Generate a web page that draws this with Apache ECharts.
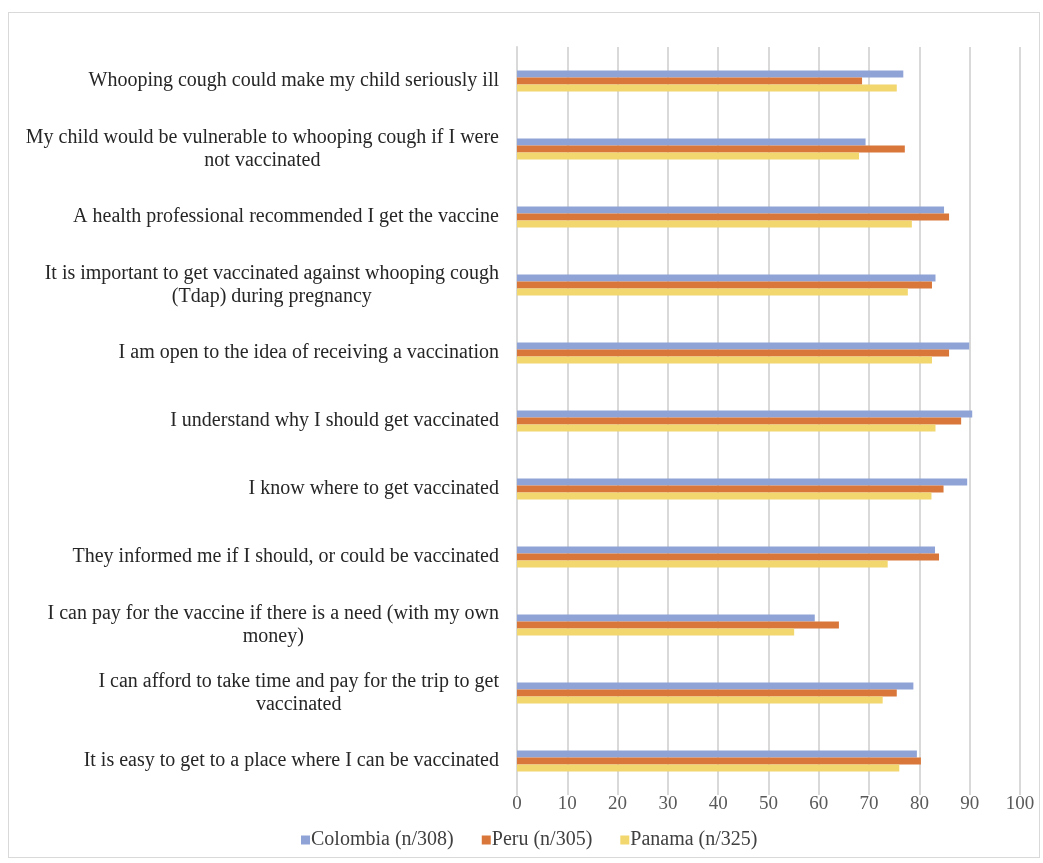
<!DOCTYPE html>
<html>
<head>
<meta charset="utf-8">
<script src="https://cdn.jsdelivr.net/npm/echarts@6/dist/echarts.min.js"></script>
<style>
  html, body { margin: 0; padding: 0; background: #fff; }
  #frame {
    position: absolute; left: 8px; top: 12px;
    width: 1030px; height: 844px;
    border: 1px solid #d9d9d9;
  }
  #chart { position: absolute; left: 0; top: 0; width: 1043px; height: 863px; }
</style>
</head>
<body>
<div id="frame"></div>
<div id="chart"></div>
<script>
  // categories, top to bottom
  const categories = [
    'Whooping cough could make my child seriously ill',
    'My child would be vulnerable to whooping cough if I were\nnot vaccinated',
    'A health professional recommended I get the vaccine',
    'It is important to get vaccinated against whooping cough\n(Tdap) during pregnancy',
    'I am open to the idea of receiving a vaccination',
    'I understand why I should get vaccinated',
    'I know where to get vaccinated',
    'They informed me if I should, or could be vaccinated',
    'I can pay for the vaccine if there is a need (with my own\nmoney)',
    'I can afford to take time and pay for the trip to get\nvaccinated',
    'It is easy to get to a place where I can be vaccinated'
  ];
  const colombia = [76.8, 69.3, 84.9, 83.2, 89.9, 90.5, 89.5, 83.1, 59.2, 78.8, 79.5];
  const peru     = [68.6, 77.1, 85.9, 82.5, 85.9, 88.3, 84.8, 83.9, 64.0, 75.5, 80.3];
  const panama   = [75.5, 68.0, 78.5, 77.7, 82.5, 83.2, 82.4, 73.7, 55.1, 72.7, 76.0];
  const seriesNames = ['Colombia (n/308)', 'Peru (n/305)', 'Panama (n/325)'];

  const serif = '"Liberation Serif", "DejaVu Serif", serif';
  const chart = echarts.init(document.getElementById('chart'));

  const mkBar = (name, data, color) => ({
    name: name,
    type: 'bar',
    data: data,
    barWidth: 7,
    barGap: '0%',
    itemStyle: { color: color }
  });

  chart.setOption({
    animation: false,
    textStyle: { fontFamily: serif },
    legend: {
      bottom: 8,
      left: 296,
      icon: 'rect',
      itemWidth: 9,
      itemHeight: 9,
      itemGap: 28,
      textStyle: { fontFamily: serif, fontSize: 20, color: '#404040', padding: [0, 0, 0, -4] },
      data: seriesNames
    },
    grid: { left: 517, right: 23, top: 47, bottom: 68, containLabel: false },
    xAxis: {
      type: 'value',
      min: 0,
      max: 100,
      interval: 10,
      axisLine: { show: false },
      axisTick: { show: false },
      splitLine: { lineStyle: { color: '#d9d9d9', width: 2 } },
      axisLabel: { margin: 0, fontFamily: serif, fontSize: 19, color: '#595959' }
    },
    yAxis: {
      type: 'category',
      inverse: true,
      data: categories,
      axisLine: { lineStyle: { color: '#d9d9d9', width: 2 } },
      axisTick: { show: false },
      axisLabel: {
        margin: 18,
        fontFamily: serif,
        fontSize: 20,
        color: '#262626',
        lineHeight: 23,
        formatter: v => v.split('\n').map(l => '{c|' + l + '}').join('\n'),
        rich: { c: { align: 'center', fontFamily: serif, fontSize: 20, color: '#262626', lineHeight: 23 } }
      }
    },
    series: [
      mkBar(seriesNames[0], colombia, '#8fa3d6'),
      mkBar(seriesNames[1], peru, '#d9773a'),
      mkBar(seriesNames[2], panama, '#f2d66e')
    ]
  });
</script>
</body>
</html>
